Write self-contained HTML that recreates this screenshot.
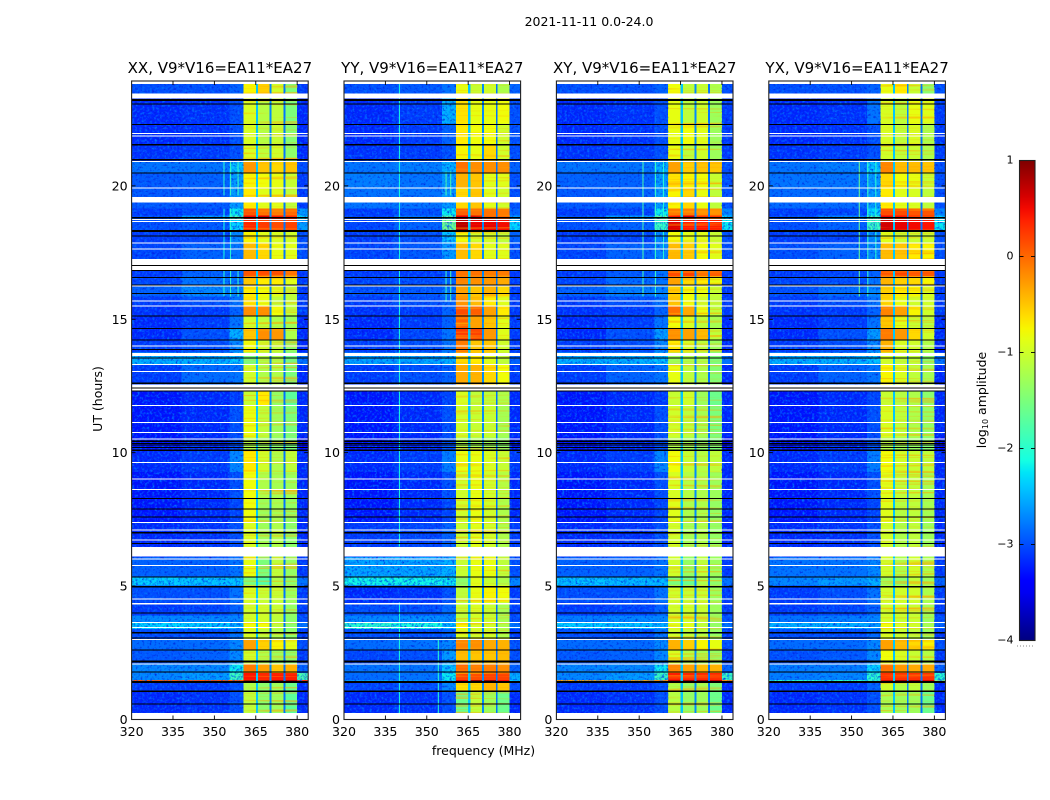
<!DOCTYPE html>
<html>
<head>
<meta charset="utf-8">
<title>V9*V16=EA11*EA27 dynamic spectra</title>
<style>
html,body{margin:0;padding:0;background:#fff;}
svg{display:block;}
text{font-family:"DejaVu Sans","Liberation Sans",sans-serif;fill:#000;}
</style>
</head>
<body>
<svg id="chart" xmlns="http://www.w3.org/2000/svg" width="1050" height="800" viewBox="0 0 1050 800">
  <defs>
    <filter id="speckle-light" x="0" y="0" width="100%" height="100%" color-interpolation-filters="sRGB">
      <feTurbulence type="fractalNoise" baseFrequency="0.4" numOctaves="2" seed="4"/>
      <feColorMatrix type="matrix" values="0 0 0 0 0  0 0 0 0 0.45  0 0 0 0 1  2.6 0 0 0 -1.2"/>
    </filter>
    <filter id="speckle-dark" x="0" y="0" width="100%" height="100%" color-interpolation-filters="sRGB">
      <feTurbulence type="fractalNoise" baseFrequency="0.42" numOctaves="2" seed="11"/>
      <feColorMatrix type="matrix" values="0 0 0 0 0  0 0 0 0 0.1  0 0 0 0 0.85  2.4 0 0 0 -1.28"/>
    </filter>
    <filter id="band-streaks" x="0" y="0" width="100%" height="100%" color-interpolation-filters="sRGB">
      <feTurbulence type="fractalNoise" baseFrequency="0.008 0.4" numOctaves="2" seed="7"/>
      <feColorMatrix type="matrix" values="0 0 0 0 1  0 0 0 0 0.65  0 0 0 0 0  2.6 0 0 0 -1.38"/>
    </filter>
    <linearGradient id="jet-gradient" x1="0" y1="1" x2="0" y2="0"></linearGradient>
  </defs>
  <rect x="0" y="0" width="1050" height="800" fill="#fff"/>
  <text x="589" y="26" font-size="12.5" text-anchor="middle">2021-11-11 0.0-24.0</text>
  <text x="483.5" y="755" font-size="12.5" text-anchor="middle">frequency (MHz)</text>
  <text transform="translate(102,399) rotate(-90)" font-size="12.5" text-anchor="middle">UT (hours)</text>
  <g id="panels"></g>
  <g id="colorbar"></g>
  <text transform="translate(986,400) rotate(-90)" font-size="12.5" text-anchor="middle">log<tspan font-size="8" dy="2">10</tspan><tspan dy="-2"> amplitude</tspan></text>
</svg>
<script>
var panelTitles = ["XX, V9*V16=EA11*EA27", "YY, V9*V16=EA11*EA27", "XY, V9*V16=EA11*EA27", "YX, V9*V16=EA11*EA27"];
var freqTicks = [320, 335, 350, 365, 380];
var hourTicks = [0, 5, 10, 15, 20];
var colorTicks = [-4, -3, -2, -1, 0, 1];
var freqEdges = [320, 338, 355.5, 360.5, 365, 365.8, 370, 370.7, 375, 375.7, 380, 384];
var gapLevels = [-2.4, -2.7, -2.8];
var timeEdges = [24, 23.4, 22.4, 21.6, 21, 20.55, 20, 19.2, 18.95, 18.8, 18.35, 17.9, 17, 16.65, 16.3, 15.9, 15.55, 15.15, 14.7, 14.25, 13.8, 13.35, 12.6, 11.8, 10.6, 10.1, 9.3, 8.3, 7.4, 6.1, 5.35, 5.04, 4.4, 3.9, 3.65, 3.4, 3, 2.6, 2.1, 1.75, 1.49, 1.43, 1.05, 0];

/* each row: bg320-338, bg338-355, near-band, band1, band2, band3, band4, above-380 (log10 amplitude) */
var xxValues = [
[-3,-3,-2.9,-.75,-.55,-1,-1.5,-3.1],[-3.2,-3.15,-3,-.95,-1.15,-1.1,-1.5,-3.2],[-3.2,-3.15,-3,-.95,-1.15,-1.05,-1.45,-3.2],[-3.15,-3.1,-3,-.95,-1.1,-1,-1.4,-3.2],
[-2.8,-2.8,-2.4,-.25,-.5,-.6,-.5,-3],[-2.95,-2.9,-2.6,-.75,-.8,-.85,-1.05,-3.1],[-2.95,-2.95,-2.6,-.7,-.9,-.9,-1.1,-3.1],[-3.1,-3.05,-2.2,.1,-.05,-.1,0,-2.6],
[-3,-2.6,-1.8,.5,.6,.4,.35,-2.2],[-3,-2.95,-2.3,.35,.25,.15,.2,-2.6],[-3.1,-3.05,-2.7,-.75,-.9,-.95,-1,-3],[-3.05,-2.9,-2.8,-.45,-.6,-.85,-.9,-3],
[-3.1,-2.9,-2.9,.1,.15,.15,-.05,-3.1],[-3.05,-2.8,-2.8,-.5,-.7,-.7,-.9,-3.1],[-2.9,-2.7,-2.7,-.7,-.8,-.9,-1.1,-3.1],[-3.1,-3,-2.8,-.65,-.85,-1.1,-1.1,-3.1],
[-3.15,-3.1,-2.9,-.2,-.2,-.8,-1.1,-3.1],[-3.2,-3.1,-2.8,-1,-1.1,-1.2,-1.3,-3.2],[-3.2,-3,-2.5,-.5,-.2,-.25,-1.2,-3.2],[-3.1,-3,-2.7,-.8,-1,-1.1,-1.4,-3.2],
[-2.5,-2.5,-2.4,-1.5,-1.2,-1.2,-1.6,-2.8],[-3.1,-2.85,-2.8,-1,-1.2,-1.2,-1.5,-3.2],[-3.3,-3.2,-3.1,-1.05,-.7,-1.35,-1.7,-3.2],[-3.3,-3.2,-3,-.85,-1.1,-1.3,-1.5,-3.2],
[-3.3,-3.2,-3,-1.2,-1.3,-1.4,-1.5,-3.4],[-3.2,-3.1,-2.7,-.7,-1,-1.2,-1.1,-3.2],[-3.3,-3.2,-3,-.8,-1.2,-1.25,-1.3,-3.2],[-3.3,-3.2,-3.05,-.8,-1.3,-1.25,-1.35,-3.2],
[-3.2,-3.15,-3,-.95,-1.3,-1.2,-1.4,-3.2],[-2.9,-2.9,-2.8,-.85,-1.5,-1.1,-1.35,-3.1],[-2.35,-2.4,-2.4,-1.5,-1.75,-1.2,-1.4,-2.8],[-3,-3,-2.8,-.95,-1.05,-1.05,-1.3,-3.1],
[-3.1,-3.05,-2.9,-1,-1,-1.05,-1.35,-3.1],[-2.7,-2.7,-2.7,-1,-1,-1.1,-1.4,-3],[-2.3,-2.35,-2.5,-.8,-.8,-1.1,-1.4,-2.8],[-3,-3,-2.8,-.95,-1.1,-1.2,-1.4,-3.1],
[-2.85,-2.85,-2.7,-.3,-.55,-.75,-.9,-3],[-2.95,-2.9,-2.7,-1,-1.2,-1.3,-1.4,-3.1],[-2.7,-2.7,-2.2,-.1,-.3,-.5,-.4,-2.9],[-2.7,-2.6,-1.9,.45,.35,.4,.4,-1.8],
[.1,.15,.1,.9,.9,.9,.8,.3],[-3.1,-3.1,-3,-1.2,-1.4,-1.3,-1.6,-3.2],[-3.2,-3.15,-3,-1.1,-1.4,-1.3,-1.7,-3.2]];

var yyValues = [
[-3,-2.95,-2.8,-.85,-1.05,-1,-1.2,-2.9],[-3.2,-3.1,-2.5,-.65,-.85,-.85,-.8,-3],[-3.2,-3.1,-2.9,-.7,-.8,-.8,-1,-3],[-3.15,-3.1,-3,-.75,-.85,-.6,-1,-3],
[-2.8,-2.75,-2.5,-.05,-.2,-.2,-.2,-2.9],[-2.75,-2.8,-2.6,-.4,-.5,-.9,-.9,-3],[-2.8,-2.8,-2.6,-.6,-.5,-.9,-1,-3],[-3.1,-3,-2.2,.05,-.05,-.05,-.1,-2.9],
[-3.05,-2.8,-1.7,.55,.6,.15,.1,-2.6],[-3.05,-2.9,-1.6,.75,.55,.55,.5,-2.3],[-3.1,-3,-2.4,-.8,-1,-1,-1.1,-2.9],[-3.05,-2.95,-2.6,-.45,-.6,-.9,-.9,-3],
[-3.1,-3.1,-3,-.05,-.05,-.1,-.1,-3.1],[-3.05,-3,-2.9,-.15,-.2,-.25,-.35,-3.1],[-3,-2.95,-2.8,-.3,-.5,-.4,-.6,-3.1],[-3.1,-3,-2.9,-.2,-.45,-.7,-.9,-3.1],
[-3.15,-3.1,-2.9,.15,.05,-.3,-.7,-3.1],[-3.2,-3.1,-2.9,.05,-.3,-.5,-.9,-3.1],[-3.2,-3.05,-2.8,.25,.2,-.25,-.9,-3.1],[-3.1,-3,-2.8,-.1,-.5,-.5,-1,-3.1],
[-2.55,-2.55,-2.5,-.6,-.7,-.9,-1.1,-2.9],[-3.1,-3,-2.9,-.35,-.4,-.6,-.8,-3.1],[-3.3,-3.2,-3.05,-.95,-1.1,-1.1,-1.2,-3.2],[-3.3,-3.2,-3,-1,-1.05,-1.05,-1.25,-3.2],
[-3.3,-3.2,-3,-1.2,-1.25,-1.3,-1.4,-3.3],[-3.2,-3.1,-2.75,-.85,-.85,-.95,-1.05,-3.1],[-3.3,-3.2,-3,-1,-.85,-1,-1.15,-3.2],[-3.3,-3.2,-3.05,-1,-.85,-1,-1.2,-3.2],
[-3.1,-3.05,-2.9,-1.05,-.9,-1,-1.2,-3.1],[-2.55,-2.55,-2.5,-1.05,-.85,-.85,-1.1,-3],[-2.15,-2.15,-2.2,-1.4,-.9,-1.05,-1.2,-2.7],[-3.2,-3.15,-3,-1.1,-.85,-.75,-.8,-3.1],
[-3,-3,-2.85,-1.05,-.95,-1.05,-1.25,-3.1],[-2.7,-2.65,-2.7,-1.1,-1,-1.05,-1.25,-3],[-2,-2.1,-2.4,-.75,-.95,-1,-1.2,-2.8],[-3,-3,-2.9,-.95,-1,-1,-1.2,-3.1],
[-2.85,-2.8,-2.7,-.15,-.2,-.35,-.4,-3],[-3.05,-3,-2.6,-.45,-.5,-.5,-.45,-3],[-2.8,-2.8,-2.4,0,-.1,-.1,-.2,-2.9],[-2.85,-2.8,-2.2,.2,.15,.2,.2,-2.5],
[-2.6,-2.6,-2.4,.6,.9,.9,.5,-2.4],[-3.05,-3,-2.7,-.65,-.6,-.4,-.5,-3],[-3.2,-3.15,-3,-1.6,-1.1,-1.3,-1.6,-3.2]];

var xyValues = [
[-3,-3,-2.9,-.8,-1.1,-1.05,-1.2,-3],[-3.2,-3.15,-3,-.85,-1.1,-1,-1.3,-3.1],[-3.2,-3.15,-3,-.85,-.8,-.9,-1.3,-3.1],[-3.15,-3.1,-3,-.85,-1.1,-1,-1.3,-3.1],
[-2.8,-2.8,-2.5,-.3,-.55,-.5,-.5,-3],[-2.9,-2.9,-2.6,-.65,-.75,-.8,-1.05,-3],[-2.95,-2.9,-2.6,-.75,-.6,-.85,-1.1,-3],[-3.1,-3.05,-2.2,-.1,-.1,-.2,-.2,-2.7],
[-3,-2.6,-1.7,.45,.6,.25,.25,-2.3],[-3,-2.9,-1.9,.6,.4,.45,.4,-2.2],[-3.1,-3.05,-2.7,-.8,-.9,-.9,-1.05,-3],[-3.05,-2.9,-2.7,-.45,-.55,-.8,-.9,-3],
[-3.1,-2.95,-2.8,.15,.2,-.05,.05,-3.1],[-3.05,-2.85,-2.8,-.3,-.6,-.7,-.85,-3.1],[-2.9,-2.75,-2.7,-.55,-.8,-.85,-1.05,-3.1],[-3.1,-3,-2.8,-.5,-.8,-1,-1.1,-3.1],
[-3.15,-3.1,-2.9,-.05,-.35,-.85,-1.1,-3.1],[-3.2,-3.1,-2.8,-.8,-.95,-1.1,-1.25,-3.2],[-3.2,-3,-2.6,-.2,-.3,-.45,-1.1,-3.2],[-3.1,-3,-2.7,-.7,-.95,-1.1,-1.3,-3.2],
[-2.5,-2.5,-2.4,-1.3,-1.2,-1.2,-1.5,-2.8],[-3.1,-2.9,-2.8,-.85,-1.1,-1.2,-1.45,-3.2],[-3.3,-3.2,-3.1,-1.05,-1,-1.3,-1.6,-3.2],[-3.3,-3.2,-3,-1,-1.1,-1.25,-1.5,-3.2],
[-3.3,-3.2,-3,-1.2,-1.3,-1.4,-1.5,-3.4],[-3.2,-3.1,-2.7,-.8,-1.05,-1.15,-1.1,-3.2],[-3.3,-3.2,-3,-.95,-1.15,-1.2,-1.3,-3.2],[-3.3,-3.2,-3.05,-.9,-1.2,-1.2,-1.35,-3.2],
[-3.2,-3.15,-3,-1,-1.25,-1.2,-1.35,-3.2],[-2.9,-2.9,-2.8,-1,-1.35,-1.1,-1.3,-3.1],[-2.4,-2.45,-2.45,-1.5,-1.6,-1.2,-1.4,-2.8],[-3,-3,-2.8,-1,-1.05,-1.05,-1.3,-3.1],
[-3.1,-3.05,-2.9,-1,-1,-1.05,-1.3,-3.1],[-2.75,-2.7,-2.7,-1,-1,-1.1,-1.35,-3],[-2.35,-2.4,-2.5,-.9,-.9,-1.1,-1.35,-2.8],[-3,-3,-2.8,-1,-1.1,-1.15,-1.35,-3.1],
[-2.85,-2.85,-2.7,-.4,-.55,-.75,-.85,-3],[-2.95,-2.9,-2.7,-.95,-1.15,-1.25,-1.35,-3.1],[-2.7,-2.7,-2.2,-.15,-.3,-.45,-.4,-2.9],[-2.7,-2.6,-1.9,.4,.35,.35,.35,-1.9],
[-.3,-.3,-.2,.8,.85,.85,.7,-.2],[-3.1,-3.1,-3,-1.2,-1.35,-1.25,-1.5,-3.2],[-3.2,-3.15,-3,-1.15,-1.35,-1.3,-1.6,-3.2]];

var yxValues = [
[-3,-3,-2.9,-.85,-.7,-1.05,-1.4,-3],[-3.2,-3.15,-2.8,-.95,-1.1,-.85,-.9,-3.1],[-3.2,-3.15,-3,-.95,-1.1,-.95,-1.2,-3.1],[-3.15,-3.1,-3,-1,-1.1,-1.05,-1.2,-3.1],
[-2.8,-2.75,-2.4,-.15,-.45,-.45,-.5,-3],[-2.8,-2.8,-2.6,-.6,-.8,-.85,-1.05,-3],[-2.85,-2.85,-2.6,-.7,-.9,-.95,-1.1,-3],[-3.1,-3.05,-2.3,.15,.15,.1,.1,-2.7],
[-3,-2.7,-1.8,.5,.45,.3,.25,-2.3],[-3,-2.9,-1.9,.65,.55,.5,.45,-2.2],[-3.1,-3.05,-2.7,-.9,-1.05,-1.05,-1.05,-3],[-3,-2.9,-2.7,-.45,-.5,-.7,-.75,-3],
[-3.1,-3.05,-2.9,.1,.2,.1,.1,-3.1],[-3.05,-3,-2.8,-.4,-.55,-.6,-.75,-3.1],[-3,-2.85,-2.7,-.55,-.7,-.75,-.95,-3.1],[-3.1,-3,-2.8,-.6,-.85,-1,-1,-3.1],
[-3.15,-3.1,-2.9,-.15,-.3,-.75,-1,-3.1],[-3.2,-3.1,-2.8,-.5,-.9,-1.05,-1.15,-3.2],[-3.2,-3,-2.6,-.1,-.25,-.6,-1,-3.2],[-3.1,-3,-2.7,-.4,-.95,-1,-1.2,-3.2],
[-2.5,-2.5,-2.4,-1,-1.1,-1.1,-1.4,-2.8],[-3.1,-2.9,-2.8,-.75,-.95,-1.1,-1.25,-3.2],[-3.3,-3.2,-3.05,-1.05,-1.15,-1.2,-1.4,-3.2],[-3.3,-3.2,-3,-.95,-1.1,-1.2,-1.35,-3.2],
[-3.3,-3.2,-3,-1.2,-1.3,-1.35,-1.45,-3.4],[-3.2,-3.1,-2.75,-.8,-1,-1.05,-1.1,-3.2],[-3.3,-3.2,-3,-.9,-1.1,-1.1,-1.25,-3.2],[-3.3,-3.2,-3.05,-.9,-1.15,-1.1,-1.25,-3.2],
[-3.2,-3.15,-3,-1,-1.2,-1.1,-1.3,-3.2],[-2.8,-2.8,-2.7,-1,-1.2,-1,-1.2,-3.1],[-2.7,-2.6,-2.5,-1.3,-1.4,-1.1,-1.3,-2.9],[-3.1,-3,-2.8,-1,-1,-1,-1.2,-3.1],
[-3.1,-3.05,-2.9,-1,-1,-1.05,-1.25,-3.1],[-2.8,-2.75,-2.7,-1,-1.05,-1.05,-1.3,-3],[-2.5,-2.5,-2.6,-.8,-.95,-1,-1.25,-2.9],[-3,-3,-2.85,-.95,-1.05,-1.1,-1.3,-3.1],
[-2.85,-2.85,-2.7,-.3,-.45,-.6,-.75,-3],[-3,-2.95,-2.7,-.8,-.95,-1.05,-1.15,-3.1],[-2.75,-2.75,-2.3,-.05,-.25,-.35,-.35,-2.9],[-2.75,-2.7,-2,.3,.3,.3,.3,-2],
[-2,-2,-1.9,.7,.85,.85,.6,-1.5],[-3.1,-3.1,-2.9,-1,-1.2,-1.1,-1.3,-3.2],[-3.2,-3.15,-3,-1.25,-1.3,-1.3,-1.6,-3.2]];

var panelValues = [xxValues, yyValues, xyValues, yxValues];

/* narrow interference channels: frequency MHz, start hour, end hour, level */
var xxInterference = [[353.3,19.7,21,-2],[355.7,19.7,21,-1.9],[358.4,19.7,21,-1.9],[353.3,17.3,19.2,-2.1],[355.7,17.3,19.2,-2],[353.3,15.9,16.9,-2],[355.7,15.9,16.9,-1.9],[358.4,15.9,16.9,-1.9]];
var yyInterference = [[339.9,6.5,24,-2.1],[339.9,0.24,4.4,-2.1],[354,0.24,3,-2],[356.8,19.7,20.6,-1.8],[358.5,19.7,20.6,-1.8],[356.8,15.7,17,-1.9],[358.5,15.7,17,-1.8]];
var xyInterference = [[351.2,15.9,21,-1.8],[355.7,15.9,21,-1.9],[358.6,17.3,21,-2]];
var yxInterference = [[352.6,15.9,21,-1.6],[355.7,15.9,21,-1.9],[358.6,17.3,21,-2]];
var panelInterference = [xxInterference, yyInterference, xyInterference, yxInterference];

/* flagged (blank) time ranges and zero-amplitude integrations, hours */
var flaggedRanges = [[23.88,24],[23.35,23.53],[22.01,22.05],[21.92,21.95],[20.95,20.99],[19.95,19.99],[19.43,19.64],[18.77,18.81],[18.7,18.74],[17.89,17.93],[17.67,17.71],[16.87,17.31],[16.27,16.31],[15.71,15.75],[15.53,15.57],[14.02,14.06],[13.66,13.77],[13.32,13.36],[13.06,13.1],[12.36,12.6],[11.78,11.82],[11.14,11.18],[10.77,10.81],[10.53,10.57],[9.64,9.68],[9.02,9.06],[8.62,8.66],[7.38,7.42],[7.1,7.14],[6.73,6.77],[6.13,6.48],[6.01,6.05],[5.77,5.81],[4.51,4.55],[4.33,4.37],[3.62,3.66],[3.43,3.47],[2.99,3.03],[2.06,2.1],[0,0.24]];
var zeroRanges = [[23.24,23.32],[23.11,23.15],[22.35,22.39],[21.57,21.64],[21.02,21.06],[20.53,20.57],[18.84,18.88],[18.32,18.39],[18.15,18.19],[17.04,17.08],[16.85,16.89],[16.6,16.64],[16.31,16.35],[16,16.04],[15.14,15.18],[14.68,14.72],[14.25,14.29],[13.89,13.93],[13.57,13.61],[12.62,12.66],[12.44,12.47],[12.32,12.36],[10.44,10.48],[10.36,10.4],[10.29,10.33],[10.21,10.25],[10.1,10.14],[8.28,8.32],[7.89,7.93],[7.59,7.63],[7,7.04],[6.6,6.64],[5.33,5.37],[4.97,5.01],[3.99,4.03],[3.24,3.28],[3.05,3.09],[2.6,2.64],[2.14,2.21],[1.77,1.81],[1.37,1.44],[1.03,1.09],[0.57,0.61]];

var SVG_NS = "http://www.w3.org/2000/svg";
var panelLefts = [131.6, 344, 556.4, 768.8];
var panelWidth = 176.6;
var plotTop = 81;
var plotBottom = 719.5;
var hourAxisMax = 23.93;
var readingCorrection = 23.93 / 24;

function jetChannel(t, pts) {
  for (var i = 1; i < pts.length; i++) {
    if (t <= pts[i][0]) {
      return pts[i-1][1] + (pts[i][1] - pts[i-1][1]) * (t - pts[i-1][0]) / (pts[i][0] - pts[i-1][0]);
    }
  }
  return pts[pts.length-1][1];
}
function colorOf(level) {
  var t = Math.max(0, Math.min(1, (level + 4) / 5));
  var r = jetChannel(t, [[0,0],[.35,0],[.66,1],[.89,1],[1,.5]]);
  var g = jetChannel(t, [[0,0],[.125,0],[.375,1],[.64,1],[.91,0],[1,0]]);
  var b = jetChannel(t, [[0,.5],[.11,1],[.34,1],[.65,0],[1,0]]);
  return "rgb(" + Math.round(r*255) + "," + Math.round(g*255) + "," + Math.round(b*255) + ")";
}
function xScale(left, mhz) { return left + (mhz - 320) * panelWidth / 64; }
function yScale(hour) { return plotBottom - hour * (plotBottom - plotTop) / hourAxisMax; }
function dataY(hour) { return yScale(hour * readingCorrection); }
function make(tag, parent) {
  var el = document.createElementNS(SVG_NS, tag);
  parent.appendChild(el);
  return el;
}
function place(el, x, y, w, h, fill) {
  el.setAttribute("x", x);
  el.setAttribute("y", y);
  el.setAttribute("width", w);
  el.setAttribute("height", h);
  el.setAttribute("fill", fill);
}
function drawLine(parent, x1, y1, x2, y2) {
  var l = make("line", parent);
  l.setAttribute("x1", x1);
  l.setAttribute("y1", y1);
  l.setAttribute("x2", x2);
  l.setAttribute("y2", y2);
  l.setAttribute("stroke", "#000");
  l.setAttribute("stroke-width", "0.9");
  return l;
}
function levelForColumn(row, col) {
  var map = [0, 1, 2, 3, -1, 4, -2, 5, -3, 6, 7];
  var m = map[col];
  return m >= 0 ? row[m] : gapLevels[-m - 1];
}

var panelsRoot = document.getElementById("panels");
panelTitles.forEach(function (title, p) {
  var left = panelLefts[p];
  var g = make("g", panelsRoot);
  
  

  var bg = make("rect", g);
  place(bg, left, plotTop, panelWidth, plotBottom - plotTop, "#fff");
  
  

  var cells = make("g", g);
  cells.setAttribute("shape-rendering", "crispEdges");
  
  
  panelValues[p].forEach(function (row, r) {
    for (var c = 0; c < freqEdges.length - 1; c++) {
      var cell = make("rect", cells);
      var x0 = xScale(left, freqEdges[c]);
      var x1 = xScale(left, freqEdges[c + 1]);
      var y0 = dataY(timeEdges[r]);
      var y1 = dataY(timeEdges[r + 1]);
      place(cell, x0, y0, x1 - x0, y1 - y0, colorOf(levelForColumn(row, c)));
      
      
    }
  });

  ["speckle-light", "speckle-dark"].forEach(function (f) {
    var a = make("rect", g);
    place(a, left, plotTop, xScale(left, 360.5) - left, plotBottom - plotTop, "#000");
    a.setAttribute("filter", "url(#" + f + ")");
    
    
    var b = make("rect", g);
    place(b, xScale(left, 380), plotTop, xScale(left, 384) - xScale(left, 380), plotBottom - plotTop, "#000");
    b.setAttribute("filter", "url(#" + f + ")");
    
    
  });
  [3, 5, 7, 9].forEach(function (col) {
    var s = make("rect", g);
    place(s, xScale(left, freqEdges[col]), plotTop, xScale(left, freqEdges[col + 1]) - xScale(left, freqEdges[col]), plotBottom - plotTop, "#000");
    s.setAttribute("filter", "url(#band-streaks)");
    
    
  });

  panelInterference[p].forEach(function (d) {
    var v = make("rect", g);
    place(v, xScale(left, d[0]), dataY(d[2]), 1, dataY(d[1]) - dataY(d[2]), colorOf(d[3]));
    
    
  });
  flaggedRanges.forEach(function (d) {
    var w = make("rect", g);
    place(w, left, dataY(d[1]), panelWidth, dataY(d[0]) - dataY(d[1]), "#fff");
    w.setAttribute("shape-rendering", "crispEdges");
    
    
  });
  zeroRanges.forEach(function (d) {
    var k = make("rect", g);
    place(k, left, dataY(d[1]), panelWidth, dataY(d[0]) - dataY(d[1]), "#000");
    k.setAttribute("shape-rendering", "crispEdges");
    
    
  });

  var frame = make("rect", g);
  place(frame, left, plotTop, panelWidth, plotBottom - plotTop, "none");
  frame.setAttribute("stroke", "#222");
  frame.setAttribute("stroke-width", "1.1");
  
  

  var ticks = make("g", g);
  
  
  freqTicks.forEach(function (f) {
    var x = xScale(left, f);
    if (f !== 320) {
      drawLine(ticks, x, plotBottom, x, plotBottom - 4);
      drawLine(ticks, x, plotTop, x, plotTop + 4);
    }
    var t = make("text", g);
    t.setAttribute("x", x);
    t.setAttribute("y", 736);
    t.setAttribute("font-size", "12.6");
    t.setAttribute("text-anchor", "middle");
    
    
    t.textContent = f;
  });
  hourTicks.forEach(function (h) {
    var y = yScale(h);
    if (h !== 0) {
      drawLine(ticks, left, y, left + 4, y);
      drawLine(ticks, left + panelWidth, y, left + panelWidth - 4, y);
    }
    var t = make("text", g);
    t.setAttribute("x", left - 4);
    t.setAttribute("y", y + 4.5);
    t.setAttribute("font-size", "12.6");
    t.setAttribute("text-anchor", "end");
    
    
    t.textContent = h;
  });

  var ttl = make("text", g);
  ttl.setAttribute("x", left + panelWidth / 2);
  ttl.setAttribute("y", 73);
  ttl.setAttribute("font-size", "15");
  ttl.setAttribute("text-anchor", "middle");
  
  
  ttl.textContent = title;
});

/* colour bar */
var barLeft = 1019.5, barRight = 1035, barTop = 160.5, barBottom = 640.5;
var grad = document.getElementById("jet-gradient");
for (var s = 0; s <= 40; s++) {
  var st = make("stop", grad);
  st.setAttribute("offset", (s / 40));
  st.setAttribute("stop-color", colorOf(-4 + 5 * s / 40));
}
var cbRoot = document.getElementById("colorbar");
var cbRect = make("rect", cbRoot);
place(cbRect, barLeft, barTop, barRight - barLeft, barBottom - barTop, "url(#jet-gradient)");
cbRect.setAttribute("stroke", "#222");
cbRect.setAttribute("stroke-width", "1.1");


function cbY(v) { return barBottom - (v + 4) * (barBottom - barTop) / 5; }
colorTicks.forEach(function (v) {
  var y = cbY(v);
  if (v > -4 && v < 1) {
    drawLine(cbRoot, barLeft, y, barLeft + 4, y);
    drawLine(cbRoot, barRight, y, barRight - 4, y);
  }
  var t = make("text", cbRoot);
  t.setAttribute("x", 1013.5);
  t.setAttribute("y", y + 3);
  t.setAttribute("font-size", "11");
  t.setAttribute("text-anchor", "end");
  
  
  t.textContent = v < 0 ? "\u2212" + (-v) : String(v);
});
var dots = make("line", cbRoot);
dots.setAttribute("x1", 1017);
dots.setAttribute("y1", 646);
dots.setAttribute("x2", 1035);
dots.setAttribute("y2", 646);
dots.setAttribute("stroke", "#888");
dots.setAttribute("stroke-width", "1");
dots.setAttribute("stroke-dasharray", "1 2");


</script>
</body>
</html>
